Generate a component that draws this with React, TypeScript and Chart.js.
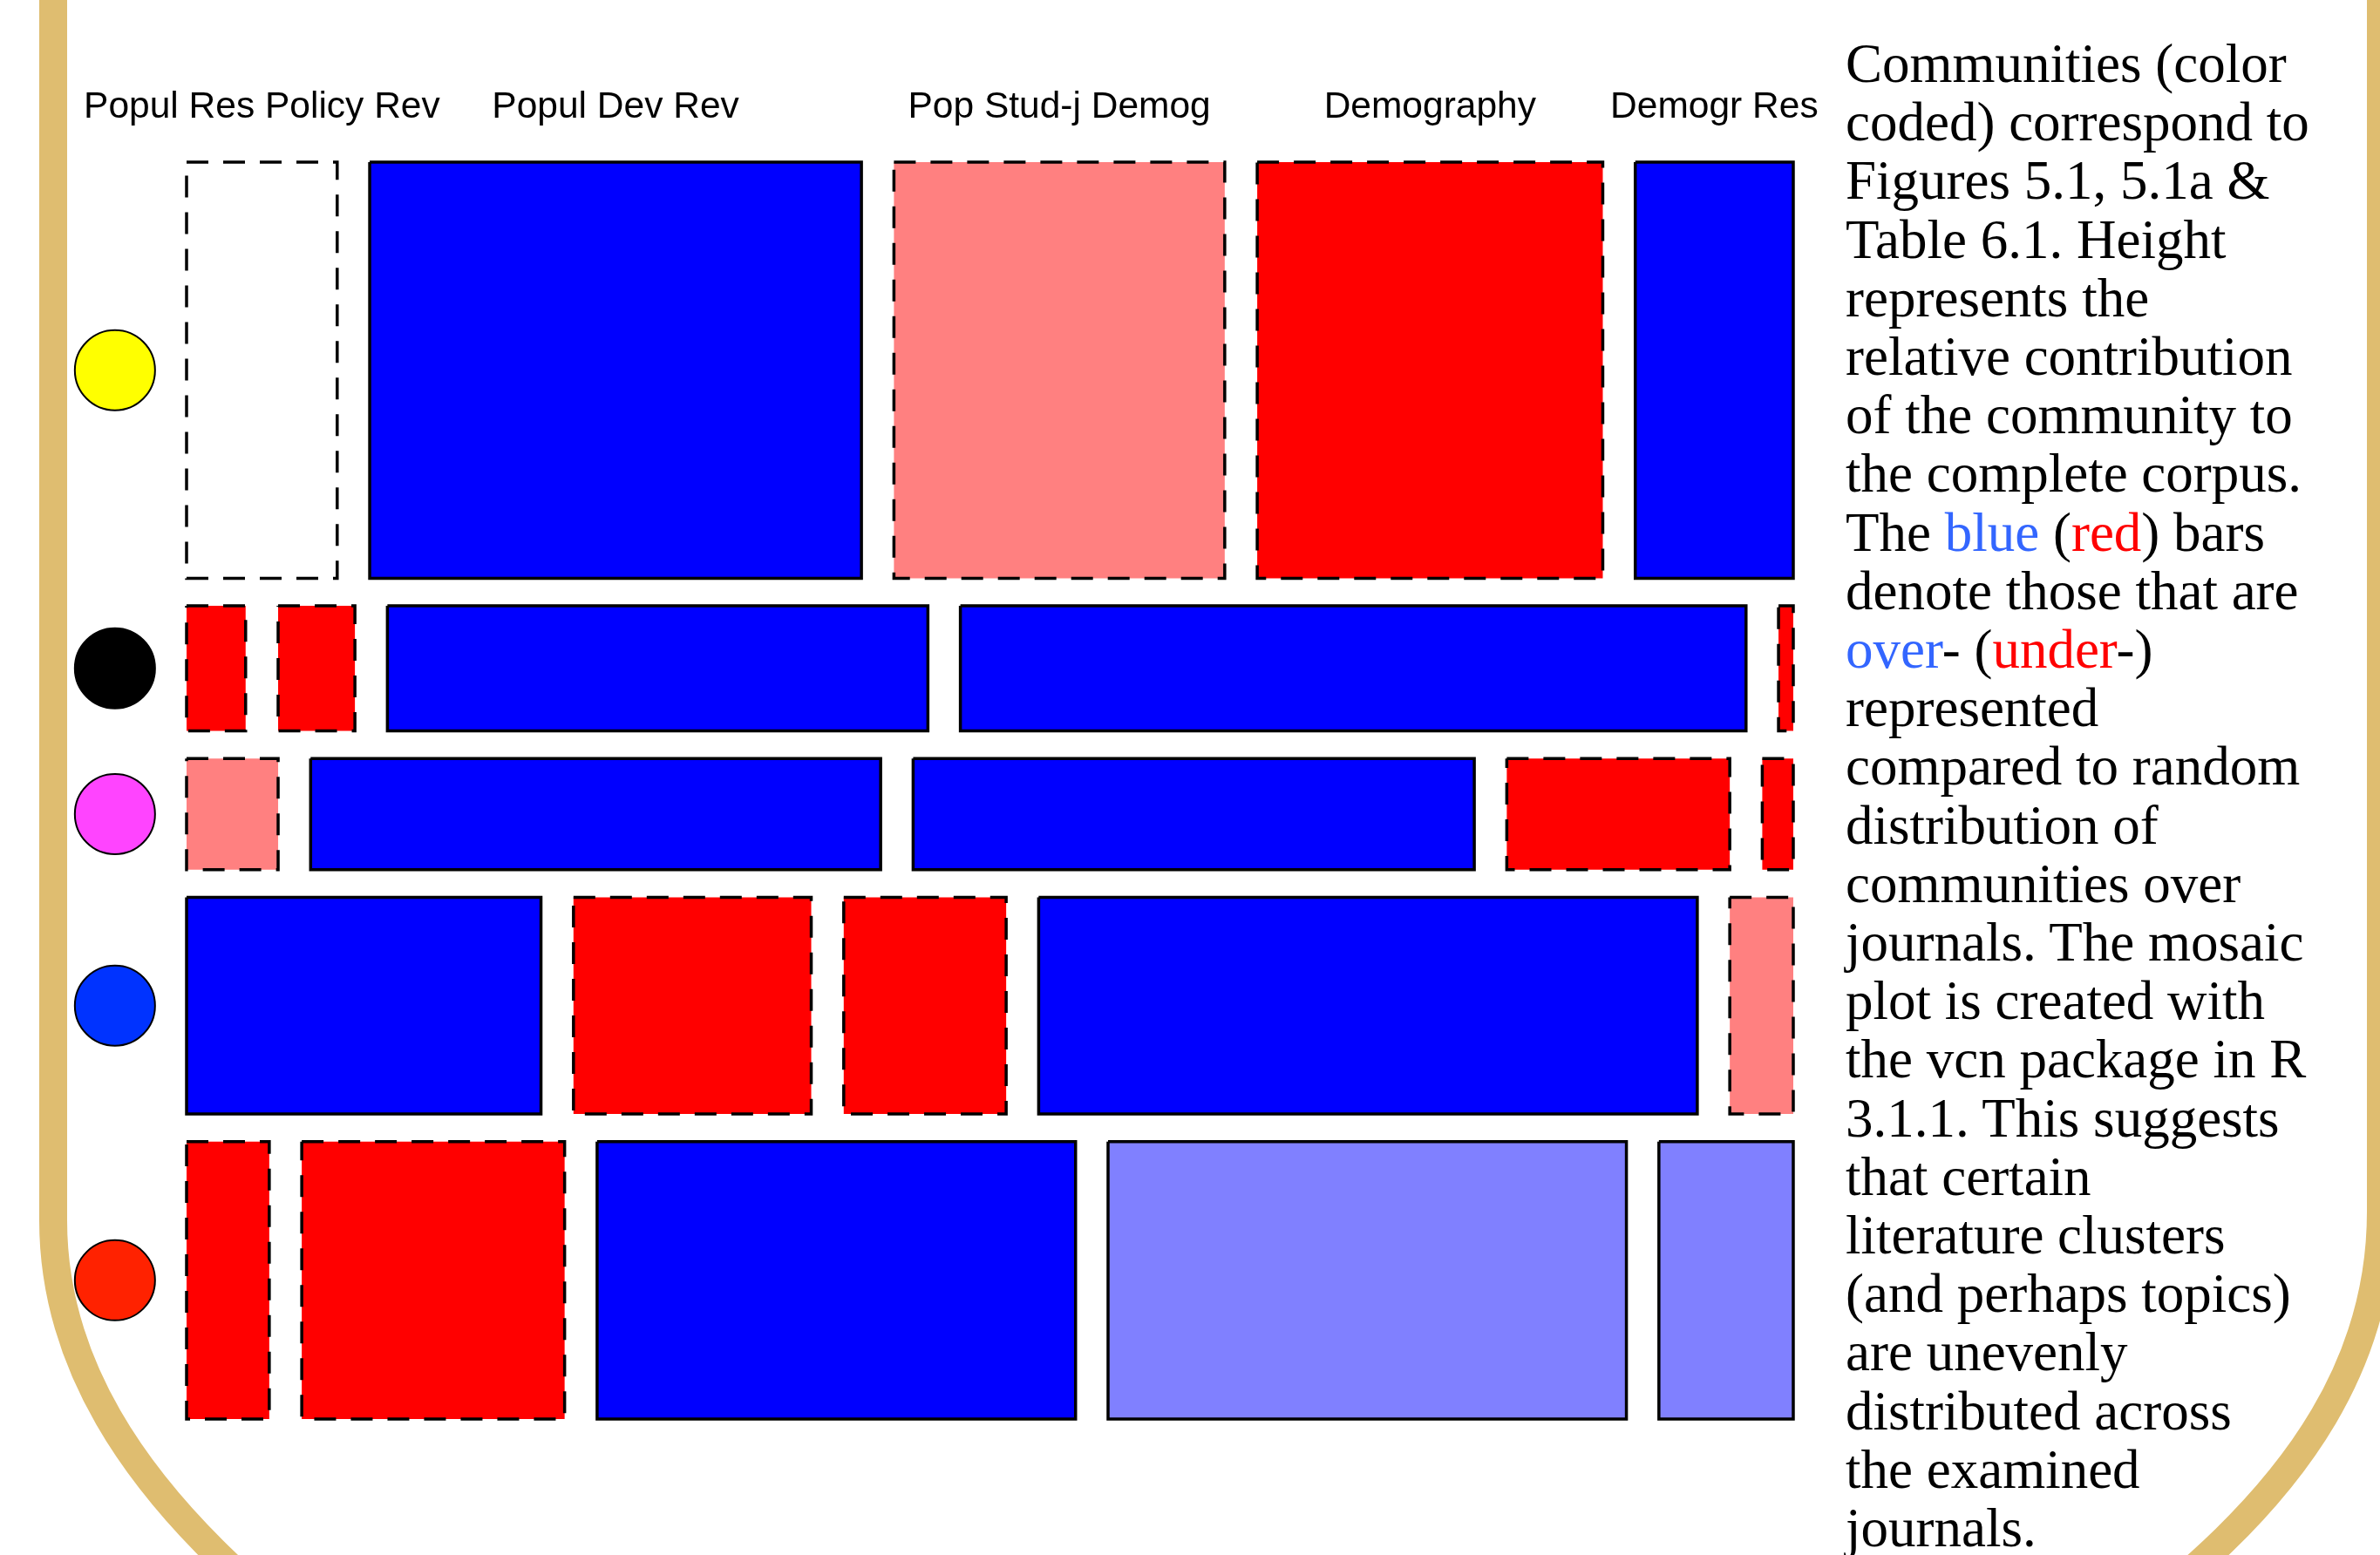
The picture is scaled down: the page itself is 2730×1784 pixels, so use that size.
import React, { useEffect, useRef } from "react";
import { Chart, registerables } from "chart.js";

Chart.register(...registerables);

// ---------------- data ----------------
const columnLabels = ["Popul Res Policy Rev", "Popul Dev Rev", "Pop Stud-j Demog", "Demography", "Demogr Res"];

const communityNames = ["Yellow", "Black", "Magenta", "Blue", "Red"];
const communityColors = ["#FFFF00", "#000000", "#FF44FF", "#0033FF", "#FF2200"];
// relative contribution of each community to the corpus (%), = row height
const communityShares = [36.3, 10.9, 9.7, 18.9, 24.2];

// share of each journal within a community (%), = cell width
const journalSharesYellow = [10.2, 33.3, 22.4, 23.4, 10.7];
const journalSharesBlack = [4.0, 5.2, 36.6, 53.2, 1.0];
const journalSharesMagenta = [6.2, 38.6, 38.0, 15.1, 2.1];
const journalSharesBlue = [24.0, 16.1, 11.0, 44.6, 4.3];
const journalSharesRed = [5.6, 17.8, 32.4, 35.1, 9.1];

// Pearson residual level of each cell (sign = over/under representation)
const residualsYellow = [-1.5, 4.8, -3.0, -5.0, 4.5];
const residualsBlack = [-4.5, -4.4, 5.0, 6.0, -4.2];
const residualsMagenta = [-3.0, 5.5, 4.8, -4.6, -4.1];
const residualsBlue = [6.5, -5.0, -4.8, 7.0, -2.6];
const residualsRed = [-4.3, -5.8, 6.2, 3.1, 2.7];

const captionLines: Array<Array<[string, string]>> = [
  [["Communities (color", "#000"]],
  [["coded) correspond to", "#000"]],
  [["Figures 5.1, 5.1a &", "#000"]],
  [["Table 6.1. Height", "#000"]],
  [["represents the", "#000"]],
  [["relative contribution", "#000"]],
  [["of the community to", "#000"]],
  [["the complete corpus.", "#000"]],
  [["The ", "#000"], ["blue", "#3366FF"], [" (", "#000"], ["red", "#FF0000"], [") bars", "#000"]],
  [["denote those that are", "#000"]],
  [["over", "#3366FF"], ["- (", "#000"], ["under", "#FF0000"], ["-)", "#000"]],
  [["represented", "#000"]],
  [["compared to random", "#000"]],
  [["distribution of", "#000"]],
  [["communities over", "#000"]],
  [["journals. The mosaic", "#000"]],
  [["plot is created with", "#000"]],
  [["the vcn package in R", "#000"]],
  [["3.1.1. This suggests", "#000"]],
  [["that certain", "#000"]],
  [["literature clusters", "#000"]],
  [["(and perhaps topics)", "#000"]],
  [["are unevenly", "#000"]],
  [["distributed across", "#000"]],
  [["the examined", "#000"]],
  [["journals.", "#000"]],
];

// ---------------- layout constants ----------------
const GAP_X = 2.2;
const GAP_Y = 2.41;
const X_MAX = 100 + GAP_X * (columnLabels.length - 1);
const Y_MAX = 100 + GAP_Y * (communityShares.length - 1);
const X_MIN = -7.6;
const MARKER_X = -4.85;
const PLOT_LEFT = 214;
const PLOT_RIGHT = 2057;
const PX_PER_X = (PLOT_RIGHT - PLOT_LEFT) / X_MAX;

function shade(r: number): string {
  if (r >= 4) return "#0000FF";
  if (r >= 2) return "#8080FF";
  if (r <= -4) return "#FF0000";
  if (r <= -2) return "#FF8080";
  return "#FFFFFF";
}

export default function App() {
  const canvasRef = useRef<HTMLCanvasElement | null>(null);

  useEffect(() => {
    const canvas = canvasRef.current;
    if (!canvas) return;

    const journalShares = [journalSharesYellow, journalSharesBlack, journalSharesMagenta, journalSharesBlue, journalSharesRed];
    const residuals = [residualsYellow, residualsBlack, residualsMagenta, residualsBlue, residualsRed];

    const datasets: any[] = [];
    const rowCenters: number[] = [];
    let yCum = 0;
    communityShares.forEach((h, i) => {
      const y0 = yCum + i * GAP_Y;
      const y1 = y0 + h;
      rowCenters.push((y0 + y1) / 2);
      yCum += h;
      const shares = journalShares[i];
      const total = shares.reduce((a, b) => a + b, 0);
      let xCum = 0;
      shares.forEach((w, j) => {
        const x0 = (xCum / total) * 100 + j * GAP_X;
        const x1 = x0 + (w / total) * 100;
        xCum += w;
        const r = residuals[i][j];
        datasets.push({
          label: communityNames[i] + " / " + columnLabels[j],
          data: [
            { x: x0, y: y0 },
            { x: x1, y: y0 },
            { x: x1, y: y1 },
            { x: x0, y: y1 },
            { x: x0, y: y0 },
          ],
          fill: "shape",
          backgroundColor: shade(r),
          borderColor: "#000000",
          borderWidth: 3.5,
          borderDash: r < 0 ? [25, 17] : [],
          borderJoinStyle: "miter",
          borderCapStyle: "butt",
          pointRadius: 0,
          pointHoverRadius: 0,
          tension: 0,
          clip: false,
        });
      });
    });

    // community markers
    datasets.push({
      label: "communities",
      data: rowCenters.map((y) => ({ x: MARKER_X, y })),
      showLine: false,
      fill: false,
      pointRadius: 46,
      pointHoverRadius: 46,
      pointBackgroundColor: communityColors,
      pointBorderColor: "#000000",
      pointBorderWidth: 2,
      clip: false,
    });

    // label centers taken from the first row's cells
    const firstShares = journalSharesYellow;
    const firstTotal = firstShares.reduce((a, b) => a + b, 0);
    const labelCenters: number[] = [];
    let c = 0;
    firstShares.forEach((w, j) => {
      const x0 = (c / firstTotal) * 100 + j * GAP_X;
      labelCenters.push(x0 + ((w / firstTotal) * 100) / 2);
      c += w;
    });

    const padLeft = PLOT_LEFT + X_MIN * PX_PER_X;

    const chart = new Chart(canvas, {
      type: "line",
      data: { datasets },
      options: {
        animation: false,
        responsive: false,
        events: [],
        layout: { padding: { left: padLeft, right: 2730 - PLOT_RIGHT, top: 60, bottom: 156 } },
        plugins: {
          legend: { display: false },
          tooltip: { enabled: false },
          title: { display: false },
        },
        scales: {
          x: {
            type: "linear",
            position: "top",
            min: X_MIN,
            max: X_MAX,
            bounds: "data",
            grid: { display: false, drawTicks: false },
            border: { display: false },
            afterBuildTicks: (scale: any) => {
              scale.ticks = labelCenters.map((v) => ({ value: v }));
            },
            ticks: {
              autoSkip: false,
              maxRotation: 0,
              minRotation: 0,
              padding: 37.5,
              color: "#000000",
              font: { family: '"Liberation Sans", Arial, sans-serif', size: 42.5 },
              callback: (_v: any, i: number) => columnLabels[i],
            },
          },
          y: {
            type: "linear",
            display: false,
            reverse: true,
            min: 0,
            max: Y_MAX,
          },
        },
      } as any,
    });

    return () => chart.destroy();
  }, []);

  const gold = "#DFBD70";

  return (
    <div
      style={{
        position: "absolute",
        left: 0,
        top: 0,
        width: 2730,
        height: 1784,
        overflow: "hidden",
        background: "#FFFFFF",
      }}
    >
      <svg
        width={2730}
        height={1784}
        style={{ position: "absolute", left: 0, top: 0 }}
      >
        <path
          d="M 61 -20 L 61 1400 C 61 1560 150 1700 300 1830"
          fill="none"
          stroke={gold}
          strokeWidth={32}
        />
        <path
          d="M 2731 -20 L 2731 1390 C 2731 1560 2640 1700 2480 1830"
          fill="none"
          stroke={gold}
          strokeWidth={32}
        />
      </svg>
      <canvas
        ref={canvasRef}
        width={2730}
        height={1784}
        style={{ position: "absolute", left: 0, top: 0, width: 2730, height: 1784 }}
      />
      <div
        style={{
          position: "absolute",
          left: 2117,
          top: 40,
          fontFamily: '"Liberation Serif", "Times New Roman", serif',
          fontSize: 63,
          lineHeight: "67.2px",
          color: "#000",
          whiteSpace: "nowrap",
        }}
      >
        {captionLines.map((parts, i) => (
          <div key={i}>
            {parts.map(([t, col], k) => (
              <span key={k} style={{ color: col }}>
                {t}
              </span>
            ))}
          </div>
        ))}
      </div>
    </div>
  );
}
